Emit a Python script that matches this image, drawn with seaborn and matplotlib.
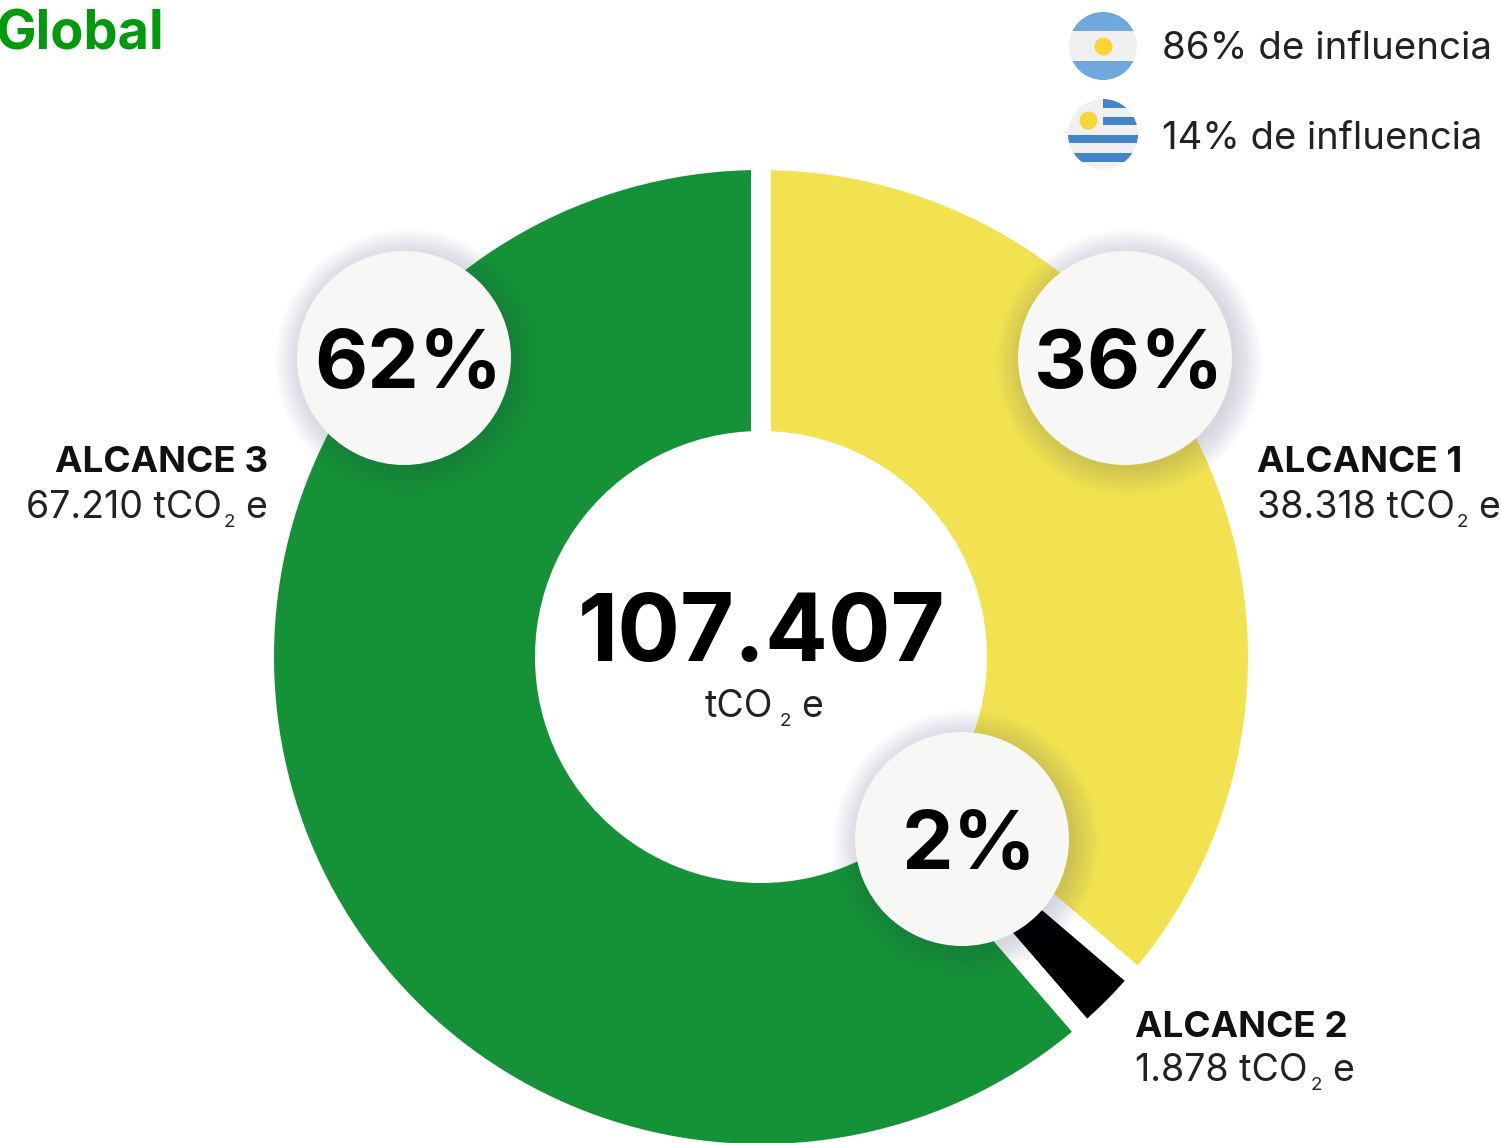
import matplotlib.pyplot as plt
from matplotlib.patches import Circle, Rectangle
import seaborn as sns

# Input data
scopes = ["ALCANCE 1", "ALCANCE 2", "ALCANCE 3"]
amounts = ["38.318", "1.878", "67.210"]
percents = ["36%", "2%", "62%"]
arc_shares = [36.25, 2.4, 61.35]
total = "107.407"
influence = ["86% de influencia", "14% de influencia"]
colors = ["#F2E250", "#000000", "#159238"]

FONT = "Inter"
W, H = 1501, 1143
CX, CY = 761, 657
PX = 72 / 100  # one pixel in points


def unit_label(x, y, amount, size, sub_dx=0, e_dx=0):
    ax.text(x, y, amount, fontsize=size, color="#222222", va="baseline", family=FONT)
    ax.text(x + sub_dx, y + 9, "2", fontsize=size * 0.5, color="#222222", va="baseline", family=FONT)
    ax.text(x + sub_dx + e_dx, y, "e", fontsize=size, color="#222222", va="baseline", family=FONT)


def bubble(x, y, label, text_x):
    # soft shadow made of stacked transparent circles
    for i in range(16):
        ax.add_patch(Circle((x + 4, y + 4), 107 + 26 - i * 1.8, fc="#3C3C5A", ec="none", alpha=0.011, zorder=3))
    ax.add_patch(Circle((x, y), 107, fc="#F7F7F5", ec="none", zorder=4))
    ax.text(text_x, y + 30, label, fontsize=59, fontweight="bold", color="black",
            ha="center", va="baseline", family=FONT, zorder=5)


def flag_stripe(clip, x0, y0, w, h, color):
    r = Rectangle((x0, y0), w, h, fc=color, ec="none", zorder=3)
    ax.add_patch(r)
    r.set_clip_path(clip)


def sun(x, y, r):
    ax.plot([x], [y], marker="o", ms=r * 2 * PX, color="#F8D637", mew=0, zorder=4)


sns.set_theme(style="white")
palette = sns.color_palette(colors)

fig = plt.figure(figsize=(W / 100, H / 100), dpi=100)
ax = fig.add_axes([0, 0, 1, 1])

# Donut. White edge makes the gaps, so radius and width include half the edge
ax.pie(arc_shares, colors=palette, center=(CX, CY), radius=497, startangle=-90,
       wedgeprops=dict(width=281, edgecolor="white", linewidth=20 * PX))
ax.set_xlim(0, W)
ax.set_ylim(H, 0)
ax.set_aspect("equal")
ax.axis("off")

# Bubbles
bubble(1125, 358, percents[0], 1129)
bubble(962, 839, percents[1], 969)
bubble(404, 358, percents[2], 408)

# Center
ax.text(762, 661, total, fontsize=67, fontweight="bold", color="black", ha="center", va="baseline", family=FONT)
unit_label(705, 717, "tCO", 27, sub_dx=75, e_dx=21)

# Scope labels
ax.text(268, 472, scopes[2], fontsize=26.5, fontweight="bold", color="#111111", ha="right", va="baseline", family=FONT)
unit_label(26, 518, amounts[2] + " tCO", 27, sub_dx=198, e_dx=21)
ax.text(1257, 472, scopes[0], fontsize=26.5, fontweight="bold", color="#111111", va="baseline", family=FONT)
unit_label(1257, 518, amounts[0] + " tCO", 27, sub_dx=200, e_dx=21)
ax.text(1135, 1037, scopes[1], fontsize=26.5, fontweight="bold", color="#111111", va="baseline", family=FONT)
unit_label(1135, 1081, amounts[1] + " tCO", 27, sub_dx=176, e_dx=21)

# Title, cut at the left edge as in the source image
ax.text(-5, 49, "Global", fontsize=39, fontweight="bold", color="#009A0C", va="baseline", family=FONT)

# Flags
arg = Circle((1103, 46), 34, fc="#F0F0F0", ec="none", zorder=2)
ax.add_patch(arg)
flag_stripe(arg, 1065, 10, 76, 21, "#6FA8DC")
flag_stripe(arg, 1065, 61, 76, 21, "#6FA8DC")
sun(1103, 46, 9)

uru = Circle((1103, 134), 35, fc="#F0F0F0", ec="none", zorder=2)
ax.add_patch(uru)
for x0, y0, w, h in [(1103, 99, 36, 9), (1103, 117, 36, 8), (1065, 135, 76, 8), (1065, 153, 76, 9)]:
    flag_stripe(uru, x0, y0, w, h, "#4383C8")
sun(1088, 120, 9)

ax.text(1162, 59, influence[0], fontsize=27.7, color="#222222", va="baseline", family=FONT)
ax.text(1162, 149, influence[1], fontsize=27.5, color="#222222", va="baseline", family=FONT)

plt.savefig("out.png", dpi=100)
print("Saved: out.png")
